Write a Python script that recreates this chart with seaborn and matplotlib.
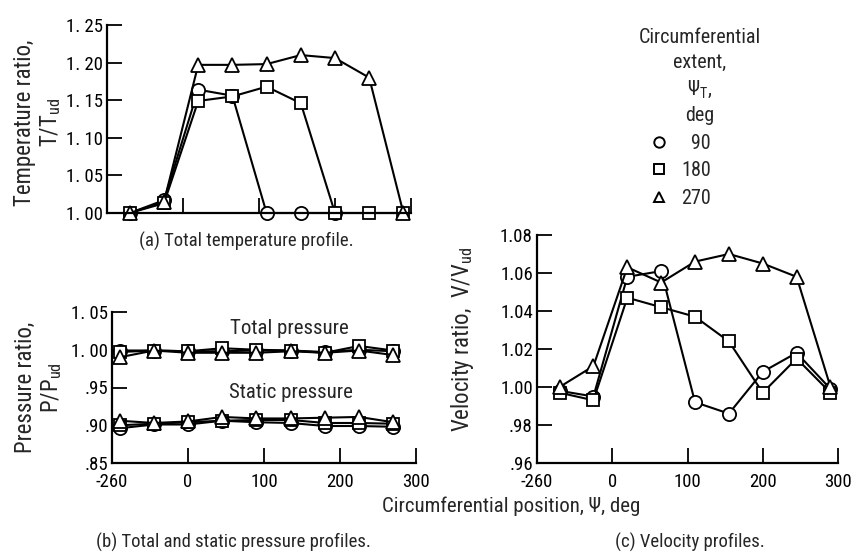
import matplotlib
matplotlib.use("Agg")
import matplotlib.pyplot as plt
from matplotlib import font_manager
from matplotlib.lines import Line2D
from matplotlib.ticker import FixedLocator, FixedFormatter
import pandas as pd
import seaborn as sns

# ---- data -------------------------------------------------------------
extents = ["90", "180", "270"]

# (a) total temperature ratio T/Tud
psi_a = [-70, -25, 20, 65, 110, 155, 200, 245, 290]
temp_90 = [1.000, 1.017, 1.164, 1.156, 1.000, 1.000, 1.000]
temp_180 = [1.000, 1.013, 1.149, 1.155, 1.168, 1.146, 1.000, 1.000, 1.000]
temp_270 = [1.000, 1.015, 1.197, 1.197, 1.198, 1.210, 1.206, 1.180, 1.000]

# (b) total and static pressure ratio P/Pud
psi_b = [-90, -45, 0, 45, 90, 135, 180, 225, 270]
ptot_90 = [0.999, 0.999, 0.998, 0.998, 0.999, 0.999, 0.997, 1.000, 0.998]
ptot_180 = [0.997, 0.999, 0.998, 1.002, 1.000, 0.999, 0.996, 1.005, 0.999]
ptot_270 = [0.990, 0.999, 0.996, 0.996, 0.996, 0.998, 0.996, 0.999, 0.993]
pstat_90 = [0.896, 0.901, 0.901, 0.906, 0.904, 0.903, 0.899, 0.899, 0.898]
pstat_180 = [0.900, 0.902, 0.904, 0.906, 0.907, 0.907, 0.903, 0.903, 0.902]
pstat_270 = [0.906, 0.903, 0.905, 0.911, 0.909, 0.909, 0.910, 0.911, 0.904]

# (c) velocity ratio V/Vud
psi_c = [-70, -25, 20, 65, 110, 155, 200, 245, 290]
vel_90 = [0.998, 0.995, 1.058, 1.061, 0.992, 0.986, 1.008, 1.018, 0.999]
vel_180 = [0.997, 0.993, 1.047, 1.042, 1.037, 1.024, 0.997, 1.015, 0.997]
vel_270 = [1.000, 1.011, 1.063, 1.055, 1.066, 1.070, 1.065, 1.058, 1.000]

x_ticks = [-100, 0, 100, 200, 300]
x_ticklabels = ["-260", "0", "100", "200", "300"]
ticks_a = [1.00, 1.05, 1.10, 1.15, 1.20, 1.25]
ticklabels_a = ["1. 00", "1. 05", "1. 10", "1. 15", "1. 20", "1. 25"]
ticks_b = [0.85, 0.90, 0.95, 1.00, 1.05]
ticklabels_b = [".85", ".90", ".95", "1. 00", "1. 05"]
ticks_c = [0.96, 0.98, 1.00, 1.02, 1.04, 1.06, 1.08]
ticklabels_c = [".96", ".98", "1.00", "1.02", "1.04", "1.06", "1.08"]

# ---- style ------------------------------------------------------------
sns.set_theme(style="ticks")
available = {f.name for f in font_manager.fontManager.ttflist}
FONT = "DejaVu Sans"
for cand in ["DejaVu Sans Condensed", "Liberation Sans Narrow",
             "Roboto Condensed", "Open Sans Condensed", "DejaVu Sans"]:
    if cand in available:
        FONT = cand
        break
plt.rcParams["font.family"] = [FONT, "DejaVu Sans"]
plt.rcParams["mathtext.fontset"] = "custom"
plt.rcParams["mathtext.rm"] = FONT
plt.rcParams["mathtext.it"] = FONT
plt.rcParams["mathtext.default"] = "regular"

FS_TICK = 13.5
FS_YLAB = 16.5
FS_XLAB = 15
FS_CAP = 13.5
FS_NOTE = 15
FS_LEG = 14.5

markers = {"90": "o", "180": "s", "270": "^"}
mk_size = {"90": 9.5, "180": 9, "270": 10}

fig = plt.figure(figsize=(8.6, 5.58), dpi=100)
W, H = 860.0, 558.0


def add_axes(x0, x1, ytop, ybot):
    return fig.add_axes([x0 / W, 1 - ybot / H, (x1 - x0) / W, (ybot - ytop) / H])


def draw_series(ax, x, y, ext):
    df = pd.DataFrame({"psi": x[:len(y)], "ratio": y})
    sns.lineplot(data=df, x="psi", y="ratio", ax=ax, color="black",
                 marker=markers[ext], markersize=mk_size[ext],
                 markerfacecolor="white", markeredgecolor="black",
                 markeredgewidth=1.3, linewidth=1.5, sort=False,
                 estimator=None, legend=False)


def style_axes(ax, yticks, yticklabels, ylim, show_xlabels):
    ax.set_xlim(-100, 300)
    ax.set_ylim(*ylim)
    sns.despine(ax=ax)
    for s in ("left", "bottom"):
        ax.spines[s].set_linewidth(1.6)
        ax.spines[s].set_color("black")
    ax.yaxis.set_major_locator(FixedLocator(yticks))
    ax.yaxis.set_major_formatter(FixedFormatter(yticklabels))
    ax.xaxis.set_major_locator(FixedLocator(x_ticks))
    if show_xlabels:
        ax.xaxis.set_major_formatter(FixedFormatter(x_ticklabels))
    else:
        ax.xaxis.set_major_formatter(FixedFormatter([""] * len(x_ticks)))
    ax.tick_params(axis="both", direction="in", length=11, width=1.3,
                   colors="black", labelsize=FS_TICK)
    ax.tick_params(axis="y", pad=3)
    ax.tick_params(axis="x", pad=7.5)
    ax.set_xlabel("")
    for ln in ax.lines:
        ln.set_clip_on(False)


def set_ylabel(ax, text, xfrac, yfrac, spacing=1.15):
    ax.set_ylabel(text, fontsize=FS_YLAB, linespacing=spacing)
    ax.yaxis.label.set_verticalalignment("center")
    ax.yaxis.label.set_multialignment("center")
    ax.yaxis.set_label_coords(xfrac, yfrac)


# (a) temperature
ax_a = add_axes(107, 411, 25, 213)
for ext, y in zip(extents, [temp_90, temp_180, temp_270]):
    draw_series(ax_a, psi_a, y, ext)
style_axes(ax_a, ticks_a, ticklabels_a, (1.00, 1.25), False)
set_ylabel(ax_a, "Temperature ratio,\nT/T$_{ud}$", (38 - 107) / 304, 0.48)

# (b) pressure
ax_b = add_axes(112, 416, 312, 463)
for ext, yt, ys in zip(extents, [ptot_90, ptot_180, ptot_270],
                       [pstat_90, pstat_180, pstat_270]):
    draw_series(ax_b, psi_b, yt, ext)
    draw_series(ax_b, psi_b, ys, ext)
style_axes(ax_b, ticks_b, ticklabels_b, (0.85, 1.05), True)
set_ylabel(ax_b, "Pressure ratio,\nP/P$_{ud}$", (39 - 112) / 304, 0.50)
ax_b.text(0.585, 0.894, "Total pressure", transform=ax_b.transAxes,
          ha="center", va="center", fontsize=FS_NOTE)
ax_b.text(0.59, 0.47, "Static pressure", transform=ax_b.transAxes,
          ha="center", va="center", fontsize=FS_NOTE)

# (c) velocity
ax_c = add_axes(537, 838, 235, 463)
for ext, y in zip(extents, [vel_90, vel_180, vel_270]):
    draw_series(ax_c, psi_c, y, ext)
style_axes(ax_c, ticks_c, ticklabels_c, (0.96, 1.08), True)
set_ylabel(ax_c, "Velocity ratio,  V/V$_{ud}$", (463 - 537) / 301, 0.54)

# common x label and captions
fig.text(511 / W, 1 - 506 / H, "Circumferential position, \u03a8, deg",
         ha="center", va="center", fontsize=FS_XLAB)
fig.text(246 / W, 1 - 241 / H, "(a) Total temperature profile.",
         ha="center", va="center", fontsize=FS_CAP)
fig.text(233 / W, 1 - 542 / H, "(b) Total and static pressure profiles.",
         ha="center", va="center", fontsize=FS_CAP)
fig.text(690 / W, 1 - 542 / H, "(c) Velocity profiles.",
         ha="center", va="center", fontsize=FS_CAP)

# legend of circumferential extent
handles = [Line2D([], [], ls="none", marker=markers[e], markersize=7.5,
                  markerfacecolor="white", markeredgecolor="black",
                  markeredgewidth=1.4) for e in extents]
labels = ["\u2007" + e if len(e) == 2 else e for e in extents]
leg = fig.legend(handles, labels,
                 title="Circumferential\nextent,\n\u03a8$_T$,\ndeg",
                 loc="upper center", bbox_to_anchor=(700 / W, 1 - 12 / H),
                 frameon=False, fontsize=FS_LEG, title_fontsize=FS_LEG,
                 alignment="left", handlelength=2.0, handletextpad=0.1,
                 labelspacing=0.42, borderpad=0.3)
leg.get_title().set_multialignment("center")
leg.get_title().set_linespacing(1.4)

fig.savefig("out.png", dpi=100)
